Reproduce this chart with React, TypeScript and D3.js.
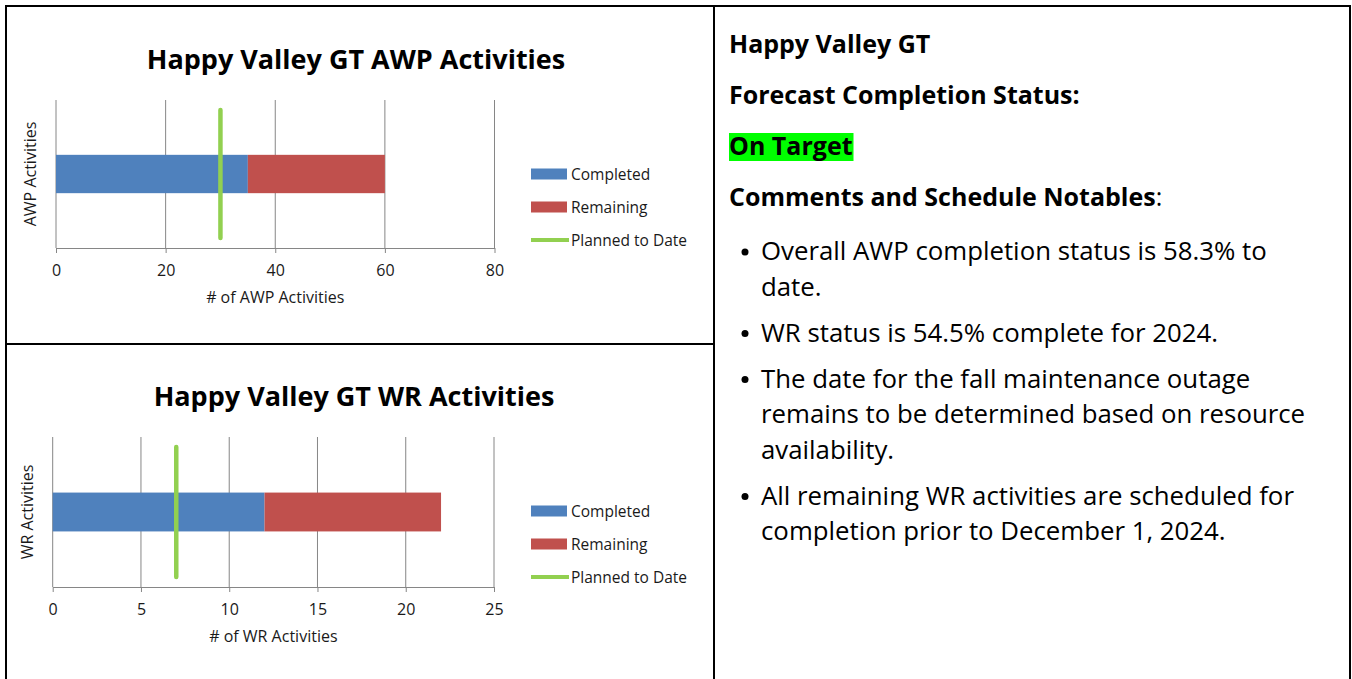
import React, { useRef, useEffect } from "react";
import * as d3 from "d3";

// chart data
const awpCategories = ["AWP Activities"];
const awpCompleted = [35];
const awpRemaining = [25];
const awpPlanned = [30];
const awpTicks = [0, 20, 40, 60, 80];

const wrCategories = ["WR Activities"];
const wrCompleted = [12];
const wrRemaining = [10];
const wrPlanned = [7];
const wrTicks = [0, 5, 10, 15, 20, 25];

const legendLabels = ["Completed", "Remaining", "Planned to Date"];

// right hand panel text
const headerLines = ["Happy Valley GT", "Forecast Completion Status:"];
const statusText = "On Target";
const commentsTitle = "Comments and Schedule Notables";
const bullets = [
  ["Overall AWP completion status is 58.3% to", "date."],
  ["WR status is 54.5% complete for 2024."],
  [
    "The date for the fall maintenance outage",
    "remains to be determined based on resource",
    "availability.",
  ],
  [
    "All remaining WR activities are scheduled for",
    "completion prior to December 1, 2024.",
  ],
];

const BLUE = "#4f81bd";
const RED = "#c0504d";
const GREEN = "#92d050";
const GRID = "#868686";
const FONT = "'Open Sans', 'Noto Sans', sans-serif";

const drawChart = (svg, cfg) => {
  const g = svg.append("g");

  const x = d3
    .scaleLinear()
    .domain([cfg.ticks[0], cfg.ticks[cfg.ticks.length - 1]])
    .range([cfg.left, cfg.right]);

  const y = d3
    .scaleBand()
    .domain(cfg.categories)
    .range([cfg.top, cfg.bottom])
    .paddingInner(0)
    .paddingOuter(1.43);

  // gridlines
  g.append("g")
    .selectAll("line")
    .data(cfg.ticks)
    .join("line")
    .attr("x1", (d) => x(d))
    .attr("x2", (d) => x(d))
    .attr("y1", cfg.top)
    .attr("y2", cfg.bottom)
    .attr("stroke", GRID)
    .attr("stroke-width", 1);

  // x axis
  const axis = g
    .append("g")
    .attr("transform", `translate(0, ${cfg.bottom})`)
    .call(d3.axisBottom(x).tickValues(cfg.ticks).tickSize(5).tickSizeOuter(0));
  axis.select(".domain").attr("stroke", GRID);
  axis.selectAll(".tick line").attr("stroke", GRID);
  axis
    .selectAll(".tick text")
    .attr("font-family", FONT)
    .attr("font-size", 16)
    .attr("fill", "#1a1a1a")
    .attr("dy", "0")
    .attr("y", 28);

  // stacked bars
  const rows = cfg.categories.map((c, i) => ({
    cat: c,
    completed: cfg.completed[i],
    remaining: cfg.remaining[i],
  }));
  const stack = d3.stack().keys(["completed", "remaining"])(rows);
  const colors = [BLUE, RED];
  g.append("g")
    .selectAll("g")
    .data(stack)
    .join("g")
    .attr("fill", (d, i) => colors[i])
    .selectAll("rect")
    .data((d) => d)
    .join("rect")
    .attr("x", (d) => x(d[0]))
    .attr("width", (d) => x(d[1]) - x(d[0]))
    .attr("y", (d) => y(d.data.cat))
    .attr("height", y.bandwidth());

  // planned to date line
  g.append("g")
    .selectAll("line")
    .data(cfg.planned)
    .join("line")
    .attr("x1", (d) => x(d))
    .attr("x2", (d) => x(d))
    .attr("y1", cfg.top + 10)
    .attr("y2", cfg.bottom - 10)
    .attr("stroke", GREEN)
    .attr("stroke-width", 4.5)
    .attr("stroke-linecap", "round");

  // titles
  g.append("text")
    .attr("x", cfg.titleX)
    .attr("y", cfg.titleY)
    .attr("text-anchor", "middle")
    .attr("font-family", FONT)
    .attr("font-weight", 700)
    .attr("font-size", 27)
    .attr("fill", "#000")
    .text(cfg.title);

  g.append("text")
    .attr("x", (cfg.left + cfg.right) / 2)
    .attr("y", cfg.bottom + 55)
    .attr("text-anchor", "middle")
    .attr("font-family", FONT)
    .attr("font-size", 16)
    .attr("fill", "#1a1a1a")
    .text(cfg.xLabel);

  g.append("text")
    .attr(
      "transform",
      `translate(${cfg.yLabelX}, ${(cfg.top + cfg.bottom) / 2}) rotate(-90)`
    )
    .attr("text-anchor", "middle")
    .attr("font-family", FONT)
    .attr("font-size", 16)
    .attr("fill", "#1a1a1a")
    .text(cfg.yLabel);

  // legend
  const legend = g
    .append("g")
    .attr("transform", `translate(531, ${cfg.top + 74})`);
  legendLabels.forEach((label, i) => {
    const row = legend.append("g").attr("transform", `translate(0, ${i * 33})`);
    if (i < 2) {
      row
        .append("rect")
        .attr("x", 0)
        .attr("y", -5.5)
        .attr("width", 36)
        .attr("height", 11)
        .attr("fill", colors[i]);
    } else {
      row
        .append("line")
        .attr("x1", 0)
        .attr("x2", 38)
        .attr("y1", 0)
        .attr("y2", 0)
        .attr("stroke", GREEN)
        .attr("stroke-width", 4);
    }
    row
      .append("text")
      .attr("x", 40)
      .attr("y", 5.5)
      .attr("font-family", FONT)
      .attr("font-size", 15.5)
      .attr("fill", "#1a1a1a")
      .text(label);
  });
};

const App = () => {
  const svgRef = useRef(null);

  useEffect(() => {
    const svg = d3.select(svgRef.current);
    svg.selectAll("*").remove();

    svg
      .append("rect")
      .attr("width", 1352)
      .attr("height", 679)
      .attr("fill", "#fff");

    drawChart(svg, {
      categories: awpCategories,
      completed: awpCompleted,
      remaining: awpRemaining,
      planned: awpPlanned,
      ticks: awpTicks,
      left: 56,
      right: 494.5,
      top: 100,
      bottom: 248,
      title: "Happy Valley GT AWP Activities",
      titleX: 356,
      titleY: 69,
      xLabel: "# of AWP Activities",
      yLabel: "AWP Activities",
      yLabelX: 36,
    });

    drawChart(svg, {
      categories: wrCategories,
      completed: wrCompleted,
      remaining: wrRemaining,
      planned: wrPlanned,
      ticks: wrTicks,
      left: 52.7,
      right: 494,
      top: 437,
      bottom: 587,
      title: "Happy Valley GT WR Activities",
      titleX: 354,
      titleY: 406,
      xLabel: "# of WR Activities",
      yLabel: "WR Activities",
      yLabelX: 33,
    });

    // table borders
    const borders = [
      [5, 6, 1351, 6],
      [6, 6, 6, 679],
      [1350, 6, 1350, 679],
      [714, 6, 714, 679],
      [6, 344, 714, 344],
    ];
    svg
      .append("g")
      .selectAll("line")
      .data(borders)
      .join("line")
      .attr("x1", (d) => d[0])
      .attr("y1", (d) => d[1])
      .attr("x2", (d) => d[2])
      .attr("y2", (d) => d[3])
      .attr("stroke", "#000")
      .attr("stroke-width", 2);

    // right panel
    const panel = svg.append("g").attr("font-family", FONT).attr("fill", "#000");
    const headSize = 25;
    const bodySize = 25.8;

    panel
      .append("text")
      .attr("x", 729)
      .attr("y", 53)
      .attr("font-weight", 700)
      .attr("font-size", headSize)
      .text(headerLines[0]);
    panel
      .append("text")
      .attr("x", 729)
      .attr("y", 104)
      .attr("font-weight", 700)
      .attr("font-size", headSize)
      .text(headerLines[1]);

    const highlight = panel
      .append("rect")
      .attr("x", 729)
      .attr("y", 133)
      .attr("height", 28)
      .attr("fill", "#00ff00");
    const status = panel
      .append("text")
      .attr("x", 729)
      .attr("y", 155)
      .attr("font-weight", 700)
      .attr("font-size", headSize)
      .text(statusText);
    highlight.attr("width", status.node().getComputedTextLength() + 1);

    const ct = panel
      .append("text")
      .attr("x", 729)
      .attr("y", 206)
      .attr("font-size", headSize);
    ct.append("tspan").attr("font-weight", 700).text(commentsTitle);
    ct.append("tspan").text(":");

    const lineGap = 35.5;
    const bulletGap = 10.5;
    let yPos = 260;
    bullets.forEach((lines) => {
      panel
        .append("circle")
        .attr("cx", 745)
        .attr("cy", yPos - 8)
        .attr("r", 3.5)
        .attr("fill", "#000");
      lines.forEach((line, j) => {
        panel
          .append("text")
          .attr("x", 761)
          .attr("y", yPos + j * lineGap)
          .attr("font-size", bodySize)
          .text(line);
      });
      yPos += lines.length * lineGap + bulletGap;
    });
  }, []);

  return (
    <svg
      ref={svgRef}
      width={1352}
      height={679}
      style={{ position: "absolute", left: 0, top: 0 }}
    />
  );
};

export default App;
